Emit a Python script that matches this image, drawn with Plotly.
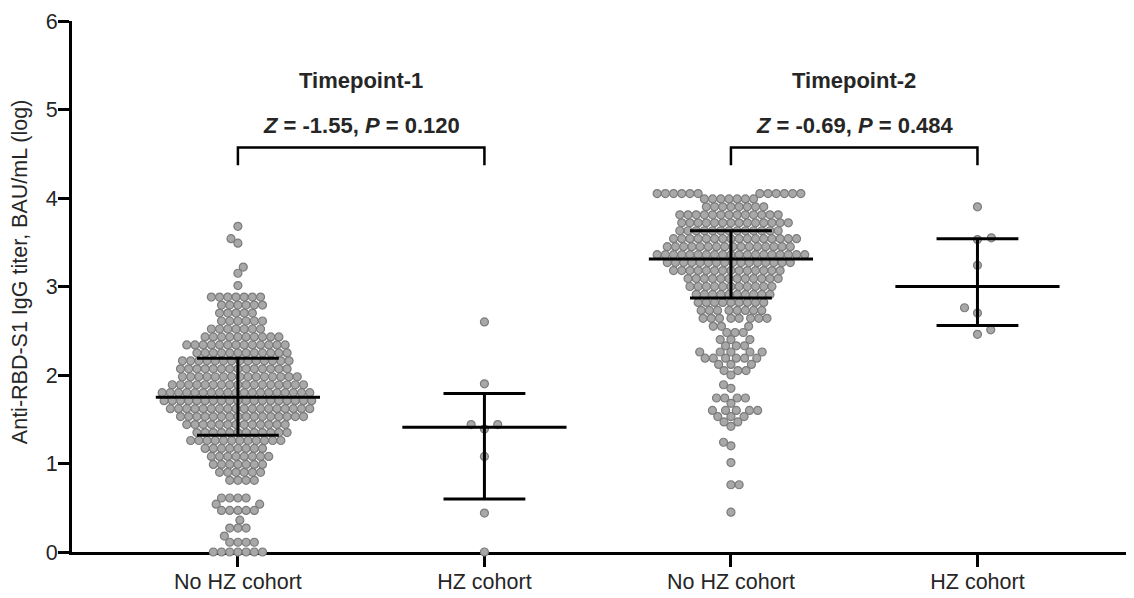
import math
import numpy as np
import plotly.graph_objects as go

# ---------------- data ----------------
categories = ["No HZ cohort", "HZ cohort", "No HZ cohort", "HZ cohort"]
cat_pos = [0, 1, 2, 3]

# Timepoint-1, No HZ cohort: rows of the swarm (log titer level, number of subjects)
t1_nohz_levels = [3.68, 3.54, 3.49, 3.22, 3.15, 3.01,
                  2.88, 2.79, 2.70, 2.61, 2.52, 2.43, 2.34, 2.25, 2.16, 2.07, 1.98, 1.89,
                  1.80, 1.71, 1.62, 1.53, 1.44, 1.35, 1.26, 1.17, 1.08, 0.99, 0.90, 0.81,
                  0.61, 0.54, 0.47, 0.36, 0.27, 0.18, 0.11, 0.00]
t1_nohz_counts = [1, 1, 1, 1, 1, 1,
                  7, 6, 5, 6, 7, 10, 13, 12, 14, 14, 15, 17,
                  19, 19, 18, 16, 13, 12, 12, 8, 8, 7, 6, 4,
                  4, 2, 5, 1, 3, 1, 4, 7]

# Timepoint-1, HZ cohort
t1_hz_values = [2.60, 1.90, 1.44, 1.44, 1.39, 1.08, 0.44, 0.00]

# Timepoint-2, No HZ cohort
t2_nohz_levels = [4.05, 3.99, 3.90, 3.81, 3.72, 3.63, 3.54, 3.45, 3.36, 3.27, 3.18, 3.09,
                  3.00, 2.91, 2.82, 2.73, 2.64,
                  2.55, 2.48, 2.40, 2.33, 2.26, 2.19, 2.12, 2.05, 2.00, 1.89, 1.85,
                  1.74, 1.68, 1.60, 1.53, 1.47, 1.42, 1.24, 1.20, 1.01, 0.76, 0.45]
t2_nohz_counts = [12, 7, 8, 13, 14, 13, 16, 16, 19, 16, 14, 12,
                  11, 10, 9, 8, 8,
                  3, 3, 3, 3, 5, 6, 3, 3, 1, 1, 1,
                  4, 1, 5, 3, 2, 1, 1, 1, 1, 2, 1]

# Timepoint-2, HZ cohort
t2_hz_values = [3.90, 3.55, 3.53, 3.24, 2.76, 2.70, 2.51, 2.46]

# median and interquartile range per group
medians = [1.75, 1.41, 3.31, 3.00]
q1_vals = [1.32, 0.60, 2.87, 2.56]
q3_vals = [2.19, 1.79, 3.63, 3.54]

timepoints = ["Timepoint-1", "Timepoint-2"]
z_stats = ["-1.55", "-0.69"]
p_stats = ["0.120", "0.484"]

# ---------------- layout constants ----------------
PAGE_OFF = 8                      # default body margin of the html page
W, H = 1126, 590
ML, MR, MT, MB = 64, 0, 13, 46
X_RANGE = [-0.673, 3.635]
Y_RANGE = [0, 6]
px_x = (W - ML - MR) / (X_RANGE[1] - X_RANGE[0])
px_y = (H - MT - MB) / (Y_RANGE[1] - Y_RANGE[0])

FONT = "Liberation Sans, Arial, sans-serif"
TXT = "#262626"


def swarm(values, d):
    """Beeswarm layout: horizontal pixel offsets so markers of diameter d don't overlap."""
    ys = np.asarray(values, dtype=float) * px_y
    order = np.argsort(ys, kind="stable")
    placed = []
    xs = np.zeros(len(ys))
    side = 1.0
    tol = 0.05 * d
    for i in order:
        y = ys[i]
        near = [(px, py) for px, py in placed if abs(py - y) < d]
        cands = [0.0]
        for px, py in near:
            dx = math.sqrt(max(d * d - (py - y) ** 2, 0.0))
            cands += [px - dx, px + dx]
        cands = sorted(set(round(c, 4) for c in cands), key=lambda c: (round(abs(c), 3), -side * c))
        for c in cands:
            if all((c - px) ** 2 + (y - py) ** 2 >= d * d - tol for px, py in near):
                xs[i] = c
                break
        if xs[i] != 0:
            side = -np.sign(xs[i])
        placed.append((xs[i], y))
    return xs


groups = [
    np.repeat(t1_nohz_levels, t1_nohz_counts),
    np.array(t1_hz_values),
    np.repeat(t2_nohz_levels, t2_nohz_counts),
    np.array(t2_hz_values),
]
spacing = [8.2, 14, 8.2, 14]

fig = go.Figure()

for pos, vals, d in zip(cat_pos, groups, spacing):
    offs = swarm(vals, d)
    fig.add_trace(go.Scatter(
        x=pos + offs / px_x, y=vals, mode="markers",
        marker=dict(size=8, color="#a8a8a8", line=dict(color="#7c7c7c", width=1.2)),
        cliponaxis=False, hoverinfo="y", showlegend=False))

# median & IQR bars
MED_HW, CAP_HW = 0.333, 0.166
lx, ly = [], []
for pos, m, lo, hi in zip(cat_pos, medians, q1_vals, q3_vals):
    lx += [pos - MED_HW, pos + MED_HW, None,
           pos - CAP_HW, pos + CAP_HW, None,
           pos - CAP_HW, pos + CAP_HW, None,
           pos, pos, None]
    ly += [m, m, None, hi, hi, None, lo, lo, None, lo, hi, None]
fig.add_trace(go.Scatter(x=lx, y=ly, mode="lines", line=dict(color="black", width=3),
                         hoverinfo="skip", showlegend=False, cliponaxis=False))

# comparison brackets
BR_TOP, BR_BOT = 4.57, 4.37
bx, by = [], []
for k in range(2):
    a, b = cat_pos[2 * k], cat_pos[2 * k + 1]
    bx += [a, a, b, b, None]
    by += [BR_BOT, BR_TOP, BR_TOP, BR_BOT, None]
fig.add_trace(go.Scatter(x=bx, y=by, mode="lines", line=dict(color="black", width=2.5),
                         hoverinfo="skip", showlegend=False))

for k in range(2):
    cx = (cat_pos[2 * k] + cat_pos[2 * k + 1]) / 2
    fig.add_annotation(x=cx, y=5.33, text="<b>%s</b>" % timepoints[k], showarrow=False,
                       font=dict(family=FONT, size=22, color=TXT))
    fig.add_annotation(x=cx, y=4.82,
                       text="<b><i>Z</i> = %s, <i>P</i> = %s</b>" % (z_stats[k], p_stats[k]),
                       showarrow=False, font=dict(family=FONT, size=22, color=TXT))

# y-axis title
fig.add_annotation(xref="paper", yref="paper",
                   x=(20 - PAGE_OFF - ML) / (W - ML - MR), y=0.527,
                   xanchor="center", yanchor="middle", textangle=-90, showarrow=False,
                   text="Anti-RBD-S1 IgG titer, BAU/mL (log)",
                   font=dict(family=FONT, size=21.5, color=TXT))

axis_common = dict(showline=True, linecolor="black", linewidth=3, ticks="outside",
                   tickwidth=3, tickcolor="black", showgrid=False,
                   zeroline=False, layer="below traces",
                   tickfont=dict(family=FONT, size=21.5, color=TXT))

fig.update_layout(
    width=W, height=H, margin=dict(l=ML, r=MR, t=MT, b=MB, autoexpand=False),
    paper_bgcolor="white", plot_bgcolor="white",
    xaxis=dict(range=X_RANGE, tickvals=cat_pos, ticktext=categories, ticklen=12,
               ticklabelstandoff=-4, **axis_common),
    yaxis=dict(range=Y_RANGE, tickvals=[0, 1, 2, 3, 4, 5, 6], ticklen=11,
               ticklabelstandoff=-4, **axis_common),
)

fig.write_html("out.html")
